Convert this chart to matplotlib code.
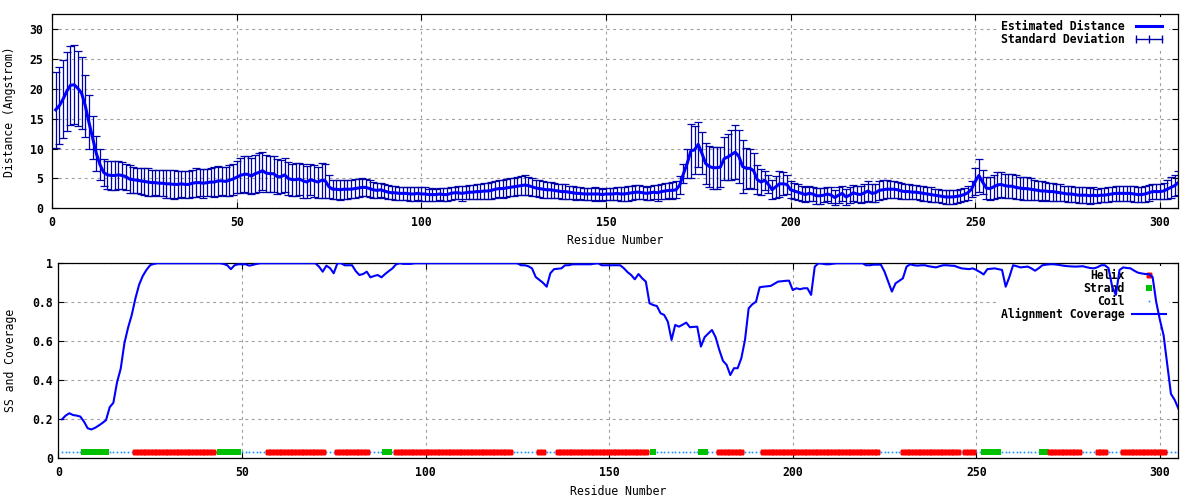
import numpy as np
import matplotlib
matplotlib.use("Agg")
import matplotlib.pyplot as plt
from matplotlib.lines import Line2D
from matplotlib.ticker import FormatStrFormatter

plt.rcParams['font.family'] = ['DejaVu Sans Mono']
plt.rcParams['font.weight'] = 'bold'
plt.rcParams['font.size'] = 8.3

# estimated distance per residue (Angstrom), residues 1..305
dist = [16.5, 17.2, 18.3, 19.6, 20.6, 20.7, 20.1, 19.3, 17.2, 14.4,
        11.8, 9.2, 7.3, 6.0, 5.6, 5.5, 5.5, 5.6, 5.5, 5.3,
        4.9, 4.8, 4.7, 4.6, 4.5, 4.4, 4.3, 4.3, 4.2, 4.2,
        4.1, 4.1, 4.0, 4.0, 4.1, 4.0, 4.0, 4.2, 4.3, 4.3,
        4.2, 4.3, 4.4, 4.4, 4.6, 4.6, 4.5, 4.7, 4.9, 5.2,
        5.5, 5.7, 5.7, 5.4, 5.8, 6.0, 6.3, 5.9, 5.8, 5.8,
        5.3, 5.3, 5.6, 5.0, 4.8, 4.8, 4.9, 4.6, 4.4, 4.8,
        4.6, 4.4, 4.7, 4.6, 3.6, 3.2, 3.2, 3.1, 3.2, 3.2,
        3.2, 3.3, 3.4, 3.5, 3.5, 3.3, 3.1, 3.0, 3.1, 2.9,
        2.7, 2.6, 2.6, 2.5, 2.5, 2.5, 2.4, 2.4, 2.5, 2.4,
        2.4, 2.3, 2.3, 2.3, 2.4, 2.3, 2.3, 2.5, 2.6, 2.6,
        2.5, 2.6, 2.7, 2.7, 2.8, 2.8, 2.9, 2.9, 3.0, 3.2,
        3.3, 3.3, 3.4, 3.5, 3.6, 3.7, 3.8, 3.9, 3.8, 3.6,
        3.4, 3.3, 3.2, 3.1, 3.1, 3.0, 2.9, 2.8, 2.8, 2.7,
        2.6, 2.5, 2.5, 2.4, 2.4, 2.4, 2.4, 2.4, 2.3, 2.4,
        2.4, 2.4, 2.5, 2.4, 2.4, 2.5, 2.6, 2.7, 2.7, 2.6,
        2.5, 2.6, 2.7, 2.6, 2.8, 2.9, 3.0, 3.0, 3.1, 3.9,
        5.8, 7.5, 9.6, 9.8, 10.7, 9.2, 7.5, 7.0, 6.8, 6.8,
        6.9, 8.3, 8.6, 9.0, 9.4, 8.7, 7.0, 6.7, 6.7, 6.3,
        4.8, 4.4, 4.7, 4.0, 3.1, 3.6, 4.1, 4.1, 4.0, 3.1,
        2.9, 2.7, 2.5, 2.3, 2.5, 2.4, 2.1, 2.1, 2.2, 2.4,
        2.2, 1.8, 2.2, 2.5, 1.9, 2.2, 2.6, 2.4, 2.3, 2.6,
        2.9, 2.5, 2.6, 3.0, 3.1, 3.2, 3.2, 3.2, 3.1, 2.9,
        2.8, 2.8, 2.7, 2.7, 2.6, 2.5, 2.4, 2.3, 2.2, 2.1,
        2.0, 1.9, 1.9, 1.9, 2.0, 2.1, 2.3, 2.6, 3.2, 4.5,
        5.5, 4.4, 3.4, 3.3, 3.6, 3.9, 4.0, 3.8, 3.7, 3.7,
        3.5, 3.4, 3.3, 3.3, 3.2, 3.1, 3.0, 2.9, 2.9, 2.8,
        2.8, 2.7, 2.6, 2.5, 2.4, 2.4, 2.3, 2.2, 2.2, 2.2,
        2.1, 2.2, 2.1, 2.2, 2.2, 2.3, 2.4, 2.5, 2.5, 2.5,
        2.5, 2.5, 2.4, 2.3, 2.3, 2.4, 2.6, 2.8, 2.8, 2.8,
        2.9, 3.2, 3.5, 3.8, 4.3]

# standard deviation per residue
std = [6.4, 6.4, 6.5, 6.6, 6.6, 6.6, 6.3, 6.0, 5.2, 4.5,
       3.6, 2.9, 2.6, 2.2, 2.3, 2.4, 2.5, 2.4, 2.3, 2.2,
       2.3, 2.2, 2.1, 2.2, 2.2, 2.3, 2.2, 2.1, 2.2, 2.2,
       2.3, 2.3, 2.4, 2.3, 2.2, 2.2, 2.3, 2.3, 2.4, 2.3,
       2.4, 2.3, 2.4, 2.5, 2.5, 2.4, 2.5, 2.6, 2.6, 2.7,
       2.9, 3.0, 3.1, 3.0, 3.2, 3.3, 3.2, 3.1, 3.0, 3.0,
       2.9, 2.8, 2.9, 2.8, 2.7, 2.8, 2.7, 2.8, 2.7, 2.6,
       2.7, 2.6, 2.9, 2.8, 1.9, 1.6, 1.6, 1.7, 1.6, 1.6,
       1.5, 1.6, 1.5, 1.5, 1.4, 1.4, 1.3, 1.3, 1.2, 1.2,
       1.2, 1.1, 1.2, 1.1, 1.1, 1.1, 1.2, 1.1, 1.1, 1.1,
       1.1, 1.0, 1.1, 1.0, 1.0, 1.1, 1.1, 1.1, 1.0, 1.1,
       1.2, 1.1, 1.2, 1.2, 1.3, 1.3, 1.3, 1.4, 1.4, 1.4,
       1.4, 1.5, 1.5, 1.5, 1.5, 1.5, 1.6, 1.6, 1.5, 1.5,
       1.4, 1.4, 1.4, 1.3, 1.3, 1.2, 1.2, 1.2, 1.2, 1.1,
       1.1, 1.1, 1.0, 1.0, 1.0, 1.0, 1.1, 1.0, 1.0, 1.0,
       1.0, 1.0, 1.1, 1.1, 1.1, 1.2, 1.2, 1.2, 1.2, 1.1,
       1.1, 1.2, 1.2, 1.3, 1.3, 1.3, 1.3, 1.4, 1.4, 1.5,
       1.6, 2.5, 4.5, 4.0, 3.8, 3.5, 3.5, 3.5, 3.5, 3.5,
       3.4, 3.6, 3.8, 4.2, 4.5, 4.4, 4.5, 3.4, 3.3, 3.0,
       2.4, 2.2, 1.6, 1.5, 1.6, 1.8, 2.2, 1.9, 1.6, 1.4,
       1.3, 1.3, 1.2, 1.2, 1.2, 1.2, 1.3, 1.3, 1.2, 1.2,
       1.3, 1.2, 1.3, 1.3, 1.4, 1.3, 1.3, 1.3, 1.4, 1.5,
       1.6, 1.5, 1.5, 1.6, 1.6, 1.5, 1.4, 1.4, 1.3, 1.3,
       1.3, 1.2, 1.2, 1.2, 1.2, 1.2, 1.2, 1.2, 1.1, 1.1,
       1.1, 1.1, 1.1, 1.1, 1.1, 1.1, 1.1, 1.2, 1.3, 2.2,
       2.7, 2.0, 1.8, 1.9, 2.0, 2.1, 2.1, 2.0, 2.0, 2.0,
       2.0, 1.9, 1.9, 1.9, 1.8, 1.7, 1.6, 1.6, 1.5, 1.5,
       1.5, 1.4, 1.4, 1.3, 1.3, 1.3, 1.3, 1.3, 1.3, 1.3,
       1.3, 1.3, 1.2, 1.2, 1.2, 1.2, 1.2, 1.3, 1.3, 1.3,
       1.3, 1.3, 1.3, 1.3, 1.2, 1.3, 1.3, 1.3, 1.3, 1.3,
       1.4, 1.6, 1.8, 1.8, 2.0]

# alignment coverage per residue
coverage = [0.200, 0.219, 0.231, 0.222, 0.219, 0.214, 0.188, 0.154, 0.148, 0.156,
            0.168, 0.181, 0.196, 0.262, 0.285, 0.390, 0.460, 0.590, 0.670, 0.735,
            0.820, 0.890, 0.935, 0.966, 0.990, 0.997, 1.0, 1.0, 1.0, 1.0,
            1.0, 1.0, 1.0, 1.0, 1.0, 1.0, 1.0, 1.0, 1.0, 1.0,
            1.0, 1.0, 1.0, 1.0, 0.997, 0.990, 0.970, 0.990, 0.995, 0.995,
            0.995, 0.988, 0.992, 0.997, 1.0, 1.0, 1.0, 1.0, 1.0, 1.0,
            1.0, 1.0, 1.0, 1.0, 1.0, 1.0, 1.0, 1.0, 1.0, 1.0,
            0.983, 0.957, 0.988, 0.975, 0.949, 1.0, 1.0, 0.990, 0.990, 0.990,
            0.960, 0.940, 0.945, 0.957, 0.928, 0.935, 0.940, 0.928, 0.945, 0.960,
            0.974, 0.995, 1.0, 0.997, 0.997, 0.997, 1.0, 1.0, 1.0, 1.0,
            1.0, 1.0, 1.0, 1.0, 1.0, 1.0, 1.0, 1.0, 1.0, 1.0,
            1.0, 1.0, 1.0, 1.0, 1.0, 1.0, 1.0, 1.0, 1.0, 1.0,
            1.0, 1.0, 1.0, 1.0, 1.0, 0.990, 0.990, 0.985, 0.974, 0.930,
            0.915, 0.900, 0.880, 0.949, 0.970, 0.972, 0.974, 0.990, 0.990, 0.995,
            0.995, 0.995, 0.995, 0.995, 0.995, 0.998, 1.0, 0.990, 0.990, 0.990,
            0.990, 0.990, 0.990, 0.975, 0.955, 0.940, 0.918, 0.945, 0.923, 0.906,
            0.795, 0.786, 0.781, 0.744, 0.735, 0.700, 0.607, 0.684, 0.675, 0.685,
            0.696, 0.672, 0.674, 0.675, 0.573, 0.621, 0.640, 0.658, 0.621, 0.556,
            0.500, 0.479, 0.427, 0.462, 0.462, 0.513, 0.607, 0.769, 0.790, 0.803,
            0.877, 0.880, 0.882, 0.884, 0.895, 0.906, 0.908, 0.910, 0.911, 0.863,
            0.872, 0.867, 0.872, 0.872, 0.838, 0.983, 1.0, 0.998, 0.995, 0.995,
            0.998, 1.0, 1.0, 1.0, 1.0, 1.0, 1.0, 1.0, 1.0, 0.990,
            0.990, 0.993, 0.993, 0.993, 0.957, 0.906, 0.855, 0.897, 0.910, 0.923,
            0.983, 0.995, 0.990, 0.988, 0.990, 0.990, 0.985, 0.982, 0.979, 0.985,
            0.990, 0.990, 0.988, 0.987, 0.980, 0.974, 0.972, 0.970, 0.974, 0.966,
            0.955, 0.943, 0.970, 0.972, 0.974, 0.970, 0.966, 0.880, 0.930, 0.990,
            0.985, 0.979, 0.981, 0.983, 0.974, 0.962, 0.975, 0.990, 0.993, 0.995,
            0.995, 0.993, 0.990, 0.987, 0.985, 0.984, 0.983, 0.984, 0.985, 0.980,
            0.976, 0.974, 0.980, 0.990, 0.990, 0.975, 0.880, 0.838, 0.966, 0.979,
            0.976, 0.974, 0.962, 0.952, 0.948, 0.945, 0.945, 0.930, 0.800, 0.709,
            0.630, 0.480, 0.330, 0.300, 0.256]

# secondary structure segments (first, last residue)
helix_segments = [(21, 42), (57, 72), (76, 84), (92, 123), (131, 132), (136, 160),
                  (180, 186), (192, 223), (230, 245), (247, 249), (270, 278),
                  (283, 285), (290, 301)]
strand_segments = [(7, 13), (44, 49), (89, 90), (162, 162), (175, 176),
                   (252, 256), (268, 269)]

residues = np.arange(1, len(dist) + 1)
ss = np.array(['C'] * len(residues))
for a, b in helix_segments:
    ss[(residues >= a) & (residues <= b)] = 'H'
for a, b in strand_segments:
    ss[(residues >= a) & (residues <= b)] = 'E'
ss_level = 0.03

W, H = 1200, 500
fig = plt.figure(figsize=(12, 5), dpi=100)
ax1 = fig.add_axes([52 / W, 1 - 208.3 / H, (1178.3 - 52) / W, 194 / H])
ax2 = fig.add_axes([58.3 / W, 1 - 458.3 / H, (1178.3 - 58.3) / W, 195 / H])

grid_kw = dict(color='#a0a0a0', linestyle=(0, (2.6, 3.2)), linewidth=0.8)
err_col = '#0000a8'
blue = '#0000ff'

# top panel
ax1.errorbar(residues, dist, yerr=std, fmt='none', ecolor=err_col,
             elinewidth=0.9, capsize=3.2, capthick=0.9, zorder=2)
ax1.plot(residues, dist, color=blue, lw=2.2, zorder=3)
ax1.set_xlim(0, 305)
ax1.set_ylim(0, 32.5)
ax1.set_xticks(range(0, 301, 50))
ax1.set_yticks(range(0, 31, 5))
ax1.grid(True, **grid_kw)
ax1.set_axisbelow(True)
ax1.tick_params(direction='in', length=4, width=0.8, top=True, right=True)
ax1.tick_params(axis='y', pad=6.2)
ax1.tick_params(axis='x', pad=5.5)
ax1.set_xlabel('Residue Number')
ax1.set_ylabel('Distance (Angstrom)')
ax1.xaxis.set_label_coords(0.5, -0.167)
ax1.xaxis.label.set_va('center')
ax1.yaxis.set_label_coords(-0.0373, 0.5)
ax1.yaxis.label.set_va('center')

h1 = [Line2D([], [], color=blue, lw=2.2),
      Line2D([], [], color=err_col, lw=1.0, marker='|', ms=6, mew=1.0)]
leg1 = ax1.legend(h1, ['Estimated Distance', 'Standard Deviation'],
                  loc='upper right', bbox_to_anchor=(0.994, 1.0),
                  markerfirst=False, frameon=True, fancybox=False,
                  edgecolor='none', facecolor='white', framealpha=1,
                  handlelength=2.9, handletextpad=0.7, labelspacing=0.0,
                  borderpad=0.3, borderaxespad=0.2, numpoints=3)
leg1.set_zorder(1.5)

# bottom panel
hel = ss == 'H'
stra = ss == 'E'
coil = ss == 'C'
ax2.plot(residues[coil], np.full(coil.sum(), ss_level), ls='', marker='s',
         ms=1.2, mew=0, color='#1a8cff', zorder=2.4)
ax2.plot(residues[stra], np.full(stra.sum(), ss_level), ls='', marker='s',
         ms=4.5, mew=0, color='#00c000', zorder=2.5)
ax2.plot(residues[hel], np.full(hel.sum(), ss_level), ls='', marker='+',
         ms=4.6, mew=3.3, color='#ff0000', zorder=2.6)
ax2.plot(residues, coverage, color=blue, lw=1.5, zorder=3)
ax2.set_xlim(0, 305)
ax2.set_ylim(0, 1)
ax2.set_xticks(range(0, 301, 50))
ax2.set_yticks(np.arange(0, 1.01, 0.2))
ax2.yaxis.set_major_formatter(FormatStrFormatter('%g'))
ax2.grid(True, **grid_kw)
ax2.set_axisbelow(True)
ax2.tick_params(direction='in', length=4, width=0.8, top=True, right=True)
ax2.tick_params(axis='y', pad=4.0)
ax2.tick_params(axis='x', pad=5.5)
ax2.set_xlabel('Residue Number')
ax2.set_ylabel('SS and Coverage')
ax2.xaxis.set_label_coords(0.5, -0.168)
ax2.xaxis.label.set_va('center')
ax2.yaxis.set_label_coords(-0.0431, 0.5)
ax2.yaxis.label.set_va('center')

h2 = [Line2D([], [], ls='', marker='+', ms=4.6, mew=3.3, color='#ff0000'),
      Line2D([], [], ls='', marker='s', ms=4.5, mew=0, color='#00c000'),
      Line2D([], [], ls='', marker='s', ms=1.2, mew=0, color='#1a8cff'),
      Line2D([], [], color=blue, lw=1.5)]
leg2 = ax2.legend(h2, ['Helix', 'Strand', 'Coil', 'Alignment Coverage'],
                  loc='upper right', bbox_to_anchor=(0.994, 1.0),
                  markerfirst=False, frameon=True, fancybox=False,
                  edgecolor='none', facecolor='white', framealpha=1,
                  handlelength=2.9, handletextpad=0.7, labelspacing=0.0,
                  borderpad=0.3, borderaxespad=0.2, numpoints=1)
leg2.set_zorder(1.5)

for ax in (ax1, ax2):
    for s in ax.spines.values():
        s.set_linewidth(0.9)

fig.savefig('out.png', dpi=100)
